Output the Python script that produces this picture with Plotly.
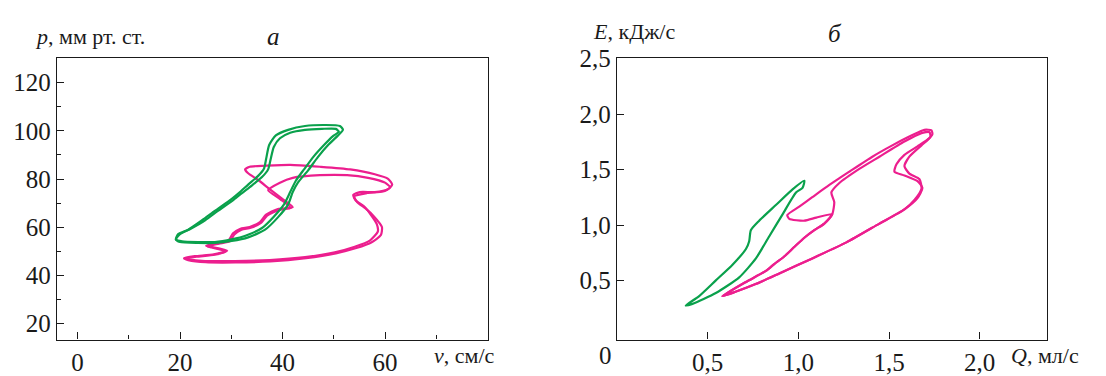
import plotly.graph_objects as go

# ---------------- panel "а": p (мм рт. ст.) vs v (см/с) ----------------
green_v_a = [19.2, 20.0, 23.5, 26.8, 30.1, 33.3, 36.6, 39.1, 41.1, 42.0, 43.0, 45.0, 46.9, 48.9, 50.8, 51.8,
             51.2, 48.3, 44.4, 41.1, 38.7, 37.4, 36.8, 36.4, 35.2, 33.3, 31.7, 30.1, 26.8, 24.3, 21.6, 19.6, 19.2]
green_p_a = [55.0, 53.9, 53.5, 53.5, 54.3, 55.8, 59.0, 64.1, 69.5, 74.6, 78.5, 83.6, 89.1, 94.1, 98.0, 100.4,
             102.0, 102.4, 102.0, 100.4, 98.1, 94.1, 88.3, 84.4, 81.2, 77.7, 74.6, 71.8, 66.8, 62.9, 59.0, 57.1, 55.0]

green_v_b = [19.2, 20.4, 23.5, 26.8, 30.1, 32.9, 36.0, 38.3, 40.3, 41.5, 42.6, 44.2, 46.1, 48.1, 49.8, 51.0,
             50.4, 47.7, 44.4, 41.5, 39.5, 38.3, 37.7, 37.2, 36.0, 34.0, 32.1, 30.5, 27.4, 24.9, 22.1, 20.0, 19.2]
green_p_b = [55.0, 54.2, 53.9, 53.9, 55.0, 56.6, 59.7, 64.4, 69.5, 74.6, 79.3, 84.0, 89.4, 94.1, 97.7, 99.6,
             100.8, 100.8, 100.4, 99.2, 96.9, 93.3, 88.3, 84.0, 80.8, 77.3, 74.2, 71.5, 66.8, 62.9, 59.4, 57.1, 55.0]

pink_v_a = [20.8, 22.9, 26.6, 29.2, 26.0, 25.1, 27.4, 29.5, 30.3, 31.7, 33.6, 35.6, 36.8, 39.1, 42.0,
            39.9, 37.5, 35.2, 33.3, 32.7, 33.6, 36.6, 41.5, 47.3, 53.2, 58.0, 60.6, 61.4, 60.6, 58.0,
            55.1, 53.8, 54.3, 55.9, 57.1, 58.4, 58.6, 57.1, 54.1, 50.2, 44.4, 37.5, 30.7, 24.9, 21.5, 20.8]
pink_p_a = [47.2, 48.0, 48.8, 50.3, 51.9, 52.3, 53.5, 54.6, 57.4, 59.3, 60.1, 62.1, 65.2, 67.6, 68.3,
            71.9, 75.8, 79.7, 82.4, 84.0, 85.1, 85.5, 85.9, 85.1, 84.0, 82.0, 80.1, 77.7, 75.8, 74.6,
            74.6, 73.4, 71.1, 68.7, 65.6, 61.3, 58.2, 54.6, 51.9, 49.6, 47.6, 46.4, 46.0, 46.0, 46.8, 47.2]

pink_v_b = [20.8, 23.2, 26.8, 29.0, 26.2, 25.4, 27.6, 29.8, 30.6, 32.0, 33.8, 35.8, 37.0, 39.3, 41.6,
            39.6, 37.2, 39.5, 42.0, 47.3, 52.6, 56.7, 60.0, 61.0, 59.6, 56.5, 54.0, 54.6, 56.2, 57.8,
            59.4, 59.2, 57.4, 54.4, 50.4, 44.6, 37.6, 30.8, 25.0, 21.6, 20.8]
pink_p_b = [47.0, 47.8, 48.6, 50.0, 51.6, 52.0, 53.2, 54.3, 57.0, 59.0, 59.8, 61.8, 64.8, 67.2, 68.0,
            71.6, 75.4, 78.5, 80.5, 81.6, 81.6, 80.5, 78.5, 76.5, 74.8, 74.2, 72.8, 70.4, 67.8, 64.6,
            60.1, 56.8, 53.8, 51.4, 49.2, 47.2, 45.8, 45.4, 45.5, 46.4, 47.0]

# ---------------- panel "б": E (кДж/с) vs Q (мл/с) ----------------
green_q = [0.379, 0.453, 0.545, 0.637, 0.711, 0.729, 0.738, 0.784, 0.876, 0.968, 1.033,
           1.023, 0.987, 0.913, 0.839, 0.766, 0.674, 0.545, 0.416, 0.379]
green_e = [0.277, 0.362, 0.503, 0.644, 0.786, 0.856, 0.955, 1.040, 1.181, 1.322, 1.400,
           1.336, 1.294, 1.097, 0.898, 0.701, 0.531, 0.390, 0.292, 0.277]

pink_q_a = [0.581, 0.711, 0.821, 0.867, 0.922, 0.977, 1.033, 1.088, 1.143, 1.187, 1.099, 1.033, 0.950, 0.939,
            1.005, 1.077, 1.171, 1.281, 1.408, 1.518, 1.629, 1.695, 1.734, 1.739, 1.712, 1.657, 1.585, 1.541,
            1.530, 1.585, 1.657, 1.684, 1.657, 1.585, 1.447, 1.265, 1.077, 0.895, 0.768, 0.646, 0.581]
pink_e_a = [0.362, 0.489, 0.588, 0.650, 0.718, 0.803, 0.887, 0.955, 1.014, 1.099, 1.068, 1.040, 1.057, 1.091,
            1.167, 1.252, 1.362, 1.481, 1.616, 1.718, 1.811, 1.858, 1.853, 1.819, 1.769, 1.709, 1.633, 1.548,
            1.481, 1.447, 1.396, 1.336, 1.243, 1.142, 1.014, 0.845, 0.701, 0.565, 0.472, 0.396, 0.362]

pink_q_b = [0.581, 0.711, 0.821, 0.867, 0.922, 0.977, 1.033, 1.088, 1.143, 1.187, 1.198, 1.182, 1.226,
            1.336, 1.447, 1.585, 1.679, 1.723, 1.728, 1.679, 1.612, 1.585, 1.612, 1.668, 1.679, 1.640,
            1.585, 1.447, 1.265, 1.077, 0.895, 0.768, 0.646, 0.581]
pink_e_b = [0.362, 0.489, 0.588, 0.650, 0.718, 0.803, 0.887, 0.955, 1.014, 1.099, 1.208, 1.294, 1.379,
            1.506, 1.616, 1.752, 1.828, 1.836, 1.794, 1.718, 1.616, 1.531, 1.464, 1.413, 1.328, 1.226,
            1.142, 1.014, 0.845, 0.701, 0.565, 0.472, 0.396, 0.362]

# tick values / labels
left_x_ticks = [0, 20, 40, 60]
left_x_minor = [10, 30, 50, 70]
left_y_ticks = [20, 40, 60, 80, 100, 120]
left_y_minor = [30, 50, 70, 90, 110]
right_x_ticks = [0.5, 1.0, 1.5, 2.0]
right_x_text = ["0,5", "1,0", "1,5", "2,0"]
right_y_ticks = [0.5, 1.0, 1.5, 2.0, 2.5]
right_y_text = ["0,5", "1,0", "1,5", "2,0", "2,5"]

GREEN = "#0AA14C"
PINK = "#EC1E8E"
FONT = "Liberation Serif"
INK = "#1a1a1a"

fig = go.Figure()
lw = 2.2
def add(x, y, color, xa, ya):
    fig.add_trace(go.Scatter(x=x, y=y, mode="lines", xaxis=xa, yaxis=ya, hoverinfo="skip",
                             line=dict(color=color, width=lw, shape="spline", smoothing=0.6)))

add(pink_v_a, pink_p_a, PINK, "x", "y")
add(pink_v_b, pink_p_b, PINK, "x", "y")
add(green_v_a, green_p_a, GREEN, "x", "y")
add(green_v_b, green_p_b, GREEN, "x", "y")
add(pink_q_a, pink_e_a, PINK, "x2", "y2")
add(pink_q_b, pink_e_b, PINK, "x2", "y2")
add(green_q, green_e, GREEN, "x2", "y2")

W, H = 1106, 376
yd = [1 - 345 / H, 1 - 48 / H]
axis_common = dict(showline=True, mirror=True, linecolor=INK, linewidth=1.3, ticks="inside",
                   ticklen=7, tickwidth=1.3, tickcolor=INK, showgrid=False, zeroline=False,
                   tickfont=dict(family=FONT, size=25, color=INK))

fig.update_layout(
    width=W, height=H, margin=dict(l=0, r=0, t=0, b=0),
    paper_bgcolor="white", plot_bgcolor="white", showlegend=False,
    xaxis=dict(domain=[57 / W, 487.5 / W], range=[-4, 80], tickvals=left_x_ticks, anchor="y",
               minor=dict(tickvals=left_x_minor, ticks="inside", ticklen=4, tickwidth=1.3, tickcolor=INK),
               **axis_common),
    yaxis=dict(domain=yd, range=[13.4, 130], tickvals=left_y_ticks, anchor="x",
               minor=dict(tickvals=left_y_minor, ticks="inside", ticklen=4, tickwidth=1.3, tickcolor=INK),
               **axis_common),
    xaxis2=dict(domain=[617 / W, 1046.8 / W], range=[0, 2.37], tickvals=right_x_ticks,
                ticktext=right_x_text, anchor="y2", **axis_common),
    yaxis2=dict(domain=yd, range=[-0.03, 2.5], tickvals=right_y_ticks, ticktext=right_y_text,
                anchor="x2", **axis_common),
)

def note(text, px, py, size=22, xanchor="left"):
    fig.add_annotation(text=text, x=px / W, y=1 - py / H, xref="paper", yref="paper",
                       xanchor=xanchor, yanchor="middle", showarrow=False,
                       font=dict(family=FONT, size=size, color=INK))

note("<i>p</i>, мм рт. ст.", 33, 25)
note("<i>а</i>", 273.5, 25, size=25, xanchor="center")
note("<i>v</i>, см/с", 432, 362)
note("<i>E</i>, кДж/с", 591, 20)
note("<i>б</i>", 835, 22, size=25, xanchor="center")
note("<i>Q</i>, мл/с", 1009, 362)
note("0", 605, 362, size=25, xanchor="center")

fig.write_html("out.html", config={"displayModeBar": False},
               post_script="document.body.style.margin='0';document.body.style.overflow='hidden';")
